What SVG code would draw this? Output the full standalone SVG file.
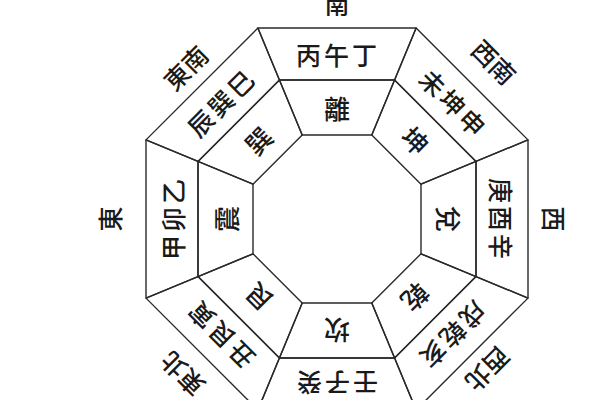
<svg xmlns="http://www.w3.org/2000/svg" xmlns:xlink="http://www.w3.org/1999/xlink" width="600" height="400" viewBox="0 0 600 400">
<defs>
<style>
.seg{fill:none;stroke:#2a2a2a;stroke-width:1.4;stroke-linejoin:round}
text{font-family:"Noto Sans CJK TC","Noto Sans CJK SC",sans-serif;font-weight:500;fill:#1a1a1a;text-anchor:middle;dominant-baseline:central}
.o{font-size:25px;letter-spacing:3px}
.i{font-size:26px}
.d{font-size:25px}
</style>
<polygon id="outerSeg" points="257.9,28 416.1,28 394.6,80 279.4,80"/>
<polygon id="innerSeg" points="279.4,80 394.6,80 371.8,135 302.2,135"/>
</defs>
<rect width="600" height="400" fill="#fff"/>
<g id="connectors"></g>
<g id="S" class="node">
<use href="#outerSeg" class="seg"/><use href="#innerSeg" class="seg"/>
<text class="o" x="338" y="54">丙午丁</text><text class="i" x="337" y="107">離</text>
<text class="d" x="337" y="3">南</text>
</g>
<g id="SW" class="node" transform="rotate(45 337 219)">
<use href="#outerSeg" class="seg"/><use href="#innerSeg" class="seg"/>
<text class="o" x="338" y="54">未坤申</text><text class="i" x="337" y="107">坤</text>
<text class="d" x="337" y="-4">西南</text>
</g>
<g id="W" class="node" transform="rotate(90 337 219)">
<use href="#outerSeg" class="seg"/><use href="#innerSeg" class="seg"/>
<text class="o" x="338" y="54">庚酉辛</text><text class="i" x="337" y="107">兌</text>
<text class="d" x="337" y="1">西</text>
</g>
<g id="NW" class="node" transform="rotate(135 337 219)">
<use href="#outerSeg" class="seg"/><use href="#innerSeg" class="seg"/>
<text class="o" x="338" y="54">戌乾亥</text><text class="i" x="337" y="107">乾</text>
<text class="d" x="337" y="5">西北</text>
</g>
<g id="N" class="node" transform="rotate(180 337 219)">
<use href="#outerSeg" class="seg"/><use href="#innerSeg" class="seg"/>
<text class="o" x="338" y="54">壬子癸</text><text class="i" x="337" y="107">坎</text>
</g>
<g id="NE" class="node" transform="rotate(225 337 219)">
<use href="#outerSeg" class="seg"/><use href="#innerSeg" class="seg"/>
<text class="o" x="338" y="54">丑艮寅</text><text class="i" x="337" y="107">艮</text>
<text class="d" x="337" y="-1">東北</text>
</g>
<g id="E" class="node" transform="rotate(270 337 219)">
<use href="#outerSeg" class="seg"/><use href="#innerSeg" class="seg"/>
<text class="o" x="338" y="54">甲卯乙</text><text class="i" x="337" y="107">震</text>
<text class="d" x="337" y="-9">東</text>
</g>
<g id="SE" class="node" transform="rotate(315 337 219)">
<use href="#outerSeg" class="seg"/><use href="#innerSeg" class="seg"/>
<text class="o" x="338" y="54">辰巽巳</text><text class="i" x="337" y="107">巽</text>
<text class="d" x="337" y="4">東南</text>
</g>
</svg>
